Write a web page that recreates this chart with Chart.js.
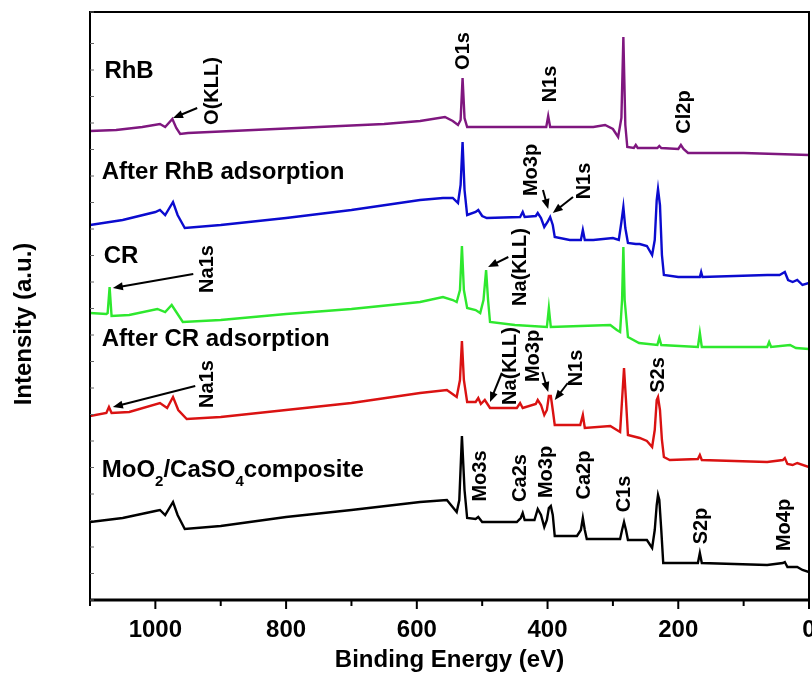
<!DOCTYPE html>
<html>
<head>
<meta charset="utf-8">
<script src="https://cdn.jsdelivr.net/npm/chart.js@4.4.0/dist/chart.umd.min.js"></script>
<style>
  html, body { margin: 0; padding: 0; background: #fff; }
</style>
</head>
<body>
<canvas id="chart" width="812" height="681"></canvas>
<script>
// binding energy (eV) and intensity (a.u., offset per trace)
const rhbEnergy = [1100,1060,1020,993,985,974,968,962,950,850,750,650,595,557,545,537,533,530,527,523,480,402,399,396,330,312,300,292,287,284,281,278,268,265,262,232,229,226,200,196,192,185,100,0];
const rhbIntensity = [469,470,473,476,473,481,472,466,467,470,473,476,479,483,479,475,480,522,482,473,473,473,484,473,473,475,471,463,482,563,475,453,452,455,452,452,454,452,451,455,451,447,447,445];

const afterRhbEnergy = [1100,1050,1000,993,985,973,966,955,900,800,700,595,560,545,537,533,530,527,523,510,506,500,493,442,438,435,418,415,410,405,400,396,392,389,366,349,346,343,330,300,291,287,284,281,277,265,259,248,240,236,233,231,228,225,222,200,167,165,163,64,45,37,32,25,18,10,0];
const afterRhbIntensity = [375,380,388,390,385,398,385,372,375,382,390,400,402,402,397,415,458,410,385,388,390,384,382,383,388,383,384,387,382,373,378,383,375,363,360,360,370,360,360,362,360,378,393,372,357,356,356,354,345,360,400,411,395,345,325,323,323,328,323,325,325,328,320,318,320,315,317];

const crEnergy = [1100,1075,1073,1070,1067,1040,997,985,975,968,958,900,800,700,595,560,545,539,534,531,528,523,510,503,498,494,491,488,450,401,398,395,350,304,294,289,286,284,282,277,260,232,229,226,170,167,164,64,61,58,29,20,0];
const crIntensity = [287,286,287,313,284,285,291,288,295,288,278,280,286,291,298,303,300,298,310,354,310,292,290,287,300,330,300,278,275,273,292,273,274,275,270,268,300,353,300,263,257,255,262,255,253,267,253,253,258,253,255,252,251];

const afterCrEnergy = [1100,1075,1071,1067,1040,993,982,973,965,952,900,800,700,595,554,539,534,531,528,523,510,506,502,496,488,447,442,438,418,415,410,405,401,398,395,392,389,350,346,343,304,294,289,286,283,280,277,259,248,240,236,233,231,228,225,222,213,170,167,164,64,40,37,33,25,18,0];
const afterCrIntensity = [184,187,193,187,188,197,192,203,190,181,183,190,197,207,210,203,220,259,220,198,198,202,196,200,192,192,197,192,196,200,195,185,190,204,204,190,175,175,185,172,174,170,168,200,232,200,165,162,159,153,170,200,203,190,160,143,140,141,145,140,138,140,142,136,135,137,133];

const compositeEnergy = [1100,1050,1000,993,985,973,966,955,900,800,700,595,554,539,535,531,527,523,510,506,500,447,441,438,435,420,415,410,405,401,398,395,392,389,355,349,346,343,340,289,286,283,280,277,248,240,236,233,231,229,226,223,170,167,164,64,40,37,33,25,18,10,0];
const compositeIntensity = [78,82,89,90,85,98,85,71,74,83,90,98,100,88,100,164,110,82,81,83,78,78,82,87,80,80,91,85,73,80,92,94,85,64,64,70,82,70,61,61,70,78,70,60,60,52,70,95,105,100,70,37,37,47,37,35,37,38,33,33,33,30,28];

const seriesNames = ['RhB', 'After RhB adsorption', 'CR', 'After CR adsorption', 'MoO2/CaSO4 composite'];
const seriesColors = ['#7f177f', '#0b0bcf', '#2ee82e', '#da1212', '#000000'];

// annotations, placed in (eV, intensity) coordinates
const peakLabels = [
  ['O(KLL)', 912, 509], ['O1s', 528, 549], ['N1s', 396, 516], ['Cl2p', 191, 488],
  ['Mo3p', 425, 430], ['N1s', 344, 419],
  ['Na(KLL)', 442, 333], ['Na1s', 921, 331],
  ['Na1s', 920, 216], ['Na(KLL)', 456, 234], ['Mo3p', 422, 244], ['N1s', 355, 232], ['S2s', 230, 225],
  ['Mo3s', 502, 124], ['Ca2s', 441, 122], ['Mo3p', 401, 128], ['Ca2p', 344, 125], ['C1s', 282, 106],
  ['S2p', 165, 74], ['Mo4p', 38, 75]
];
const arrows = [
  [936, 492, 973, 482], [942, 326, 1065, 312], [939, 214, 1065, 193],
  [407, 410, 399, 391], [361, 403, 392, 387], [460, 343, 491, 333],
  [470, 227, 488, 198], [408, 228, 399, 208], [369, 217, 389, 200]
];
const seriesLabelPos = [[1078, 531], [1082, 430], [1079, 346], [1082, 263], [1082, 132]];

const FONT = '"Liberation Sans", Arial, sans-serif';
Chart.defaults.font.family = FONT;
Chart.defaults.color = '#000';

function pts(xs, ys) {
  return xs.map((x, i) => ({ x, y: ys[i] }));
}

const traces = [
  pts(rhbEnergy, rhbIntensity),
  pts(afterRhbEnergy, afterRhbIntensity),
  pts(crEnergy, crIntensity),
  pts(afterCrEnergy, afterCrIntensity),
  pts(compositeEnergy, compositeIntensity)
];

const datasets = traces.map((data, i) => ({
  label: seriesNames[i],
  data,
  borderColor: seriesColors[i],
  borderWidth: 2.4,
  pointRadius: 0,
  tension: 0,
  fill: false
}));

function arrow(ctx, x1, y1, x2, y2) {
  const a = Math.atan2(y2 - y1, x2 - x1);
  ctx.beginPath();
  ctx.moveTo(x1, y1);
  ctx.lineTo(x2 - 6 * Math.cos(a), y2 - 6 * Math.sin(a));
  ctx.stroke();
  ctx.beginPath();
  ctx.moveTo(x2, y2);
  ctx.lineTo(x2 - 10 * Math.cos(a) + 4 * Math.sin(a), y2 - 10 * Math.sin(a) - 4 * Math.cos(a));
  ctx.lineTo(x2 - 10 * Math.cos(a) - 4 * Math.sin(a), y2 - 10 * Math.sin(a) + 4 * Math.cos(a));
  ctx.closePath();
  ctx.fill();
}

const decor = {
  id: 'decor',
  afterDraw(chart) {
    const { ctx, chartArea: ca, scales: { x, y } } = chart;
    ctx.save();
    ctx.strokeStyle = '#000';
    ctx.fillStyle = '#000';

    // frame
    ctx.lineWidth = 2;
    ctx.strokeRect(ca.left, ca.top, ca.right - ca.left, ca.bottom - ca.top);
    ctx.lineWidth = 3;
    ctx.beginPath();
    ctx.moveTo(ca.left - 1, ca.bottom);
    ctx.lineTo(ca.right + 1, ca.bottom);
    ctx.stroke();

    // x tick marks, long at labelled values
    ctx.lineWidth = 2;
    x.ticks.forEach(t => {
      const px = x.getPixelForValue(t.value);
      const len = t.value % 200 === 0 ? 9 : 6;
      ctx.beginPath();
      ctx.moveTo(px, ca.bottom);
      ctx.lineTo(px, ca.bottom + len);
      ctx.stroke();
    });

    // small inner ticks on the left axis
    ctx.lineWidth = 1;
    ctx.strokeStyle = '#666';
    y.ticks.forEach(t => {
      const py = y.getPixelForValue(t.value);
      ctx.beginPath();
      ctx.moveTo(ca.left, py);
      ctx.lineTo(ca.left + 4, py);
      ctx.stroke();
    });
    ctx.strokeStyle = '#000';

    // y axis title
    ctx.font = 'bold 24px ' + FONT;
    ctx.textAlign = 'center';
    ctx.textBaseline = 'middle';
    ctx.save();
    ctx.translate(ca.left - 66, y.getPixelForValue(276));
    ctx.rotate(-Math.PI / 2);
    ctx.fillText('Intensity (a.u.)', 0, 0);
    ctx.restore();

    // peak labels
    ctx.font = 'bold 20px ' + FONT;
    peakLabels.forEach(([text, e, v]) => {
      ctx.save();
      ctx.translate(x.getPixelForValue(e), y.getPixelForValue(v));
      ctx.rotate(-Math.PI / 2);
      ctx.fillText(text, 0, 0);
      ctx.restore();
    });

    // arrows
    ctx.lineWidth = 2;
    arrows.forEach(([e1, v1, e2, v2]) => {
      arrow(ctx, x.getPixelForValue(e1), y.getPixelForValue(v1),
        x.getPixelForValue(e2), y.getPixelForValue(v2));
    });

    // series labels
    ctx.textAlign = 'left';
    ctx.textBaseline = 'alphabetic';
    seriesLabelPos.forEach(([e, v], i) => {
      let px = x.getPixelForValue(e);
      const base = y.getPixelForValue(v) + 9;
      let parts = [[seriesNames[i], false]];
      if (i === 4) parts = [['MoO', false], ['2', true], ['/CaSO', false], ['4', true], ['composite', false]];
      parts.forEach(([s, sub]) => {
        ctx.font = sub ? 'bold 15px ' + FONT : 'bold 24px ' + FONT;
        ctx.fillText(s, px, sub ? base + 9 : base);
        px += ctx.measureText(s).width;
      });
    });
    ctx.restore();
  }
};

new Chart(document.getElementById('chart'), {
  type: 'line',
  data: { datasets },
  options: {
    responsive: false,
    animation: false,
    layout: { padding: { left: 0, right: 3, top: 12, bottom: 0 } },
    plugins: { legend: { display: false }, tooltip: { enabled: false } },
    scales: {
      x: {
        type: 'linear',
        reverse: true,
        min: 0,
        max: 1100,
        grid: { display: false, drawTicks: true, tickLength: 8 },
        border: { display: false },
        ticks: {
          stepSize: 100,
          padding: 8,
          maxRotation: 0,
          autoSkip: false,
          font: { size: 24, weight: 'bold' },
          callback: v => (v % 200 === 0 ? String(v) : '')
        },
        title: {
          display: true,
          text: 'Binding Energy (eV)',
          font: { size: 24, weight: 'bold' },
          padding: { top: 0, bottom: 6 }
        },
        afterFit(scale) {
          scale.height = 81;
          scale.paddingLeft = 0;
          scale.paddingRight = 0;
        }
      },
      y: {
        min: 0,
        max: 588,
        grid: { display: false },
        border: { display: false },
        ticks: { display: false, stepSize: 26.5 },
        afterFit(scale) {
          scale.width = 90;
        }
      }
    }
  },
  plugins: [decor]
});
</script>
</body>
</html>
